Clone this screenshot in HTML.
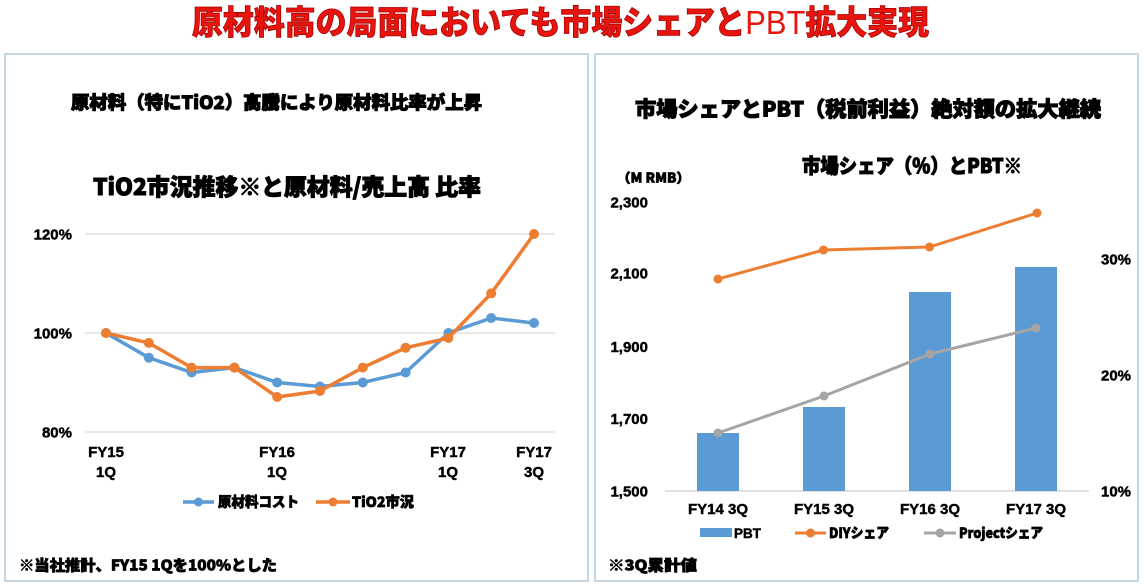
<!DOCTYPE html>
<html><head><meta charset="utf-8"><style>
html,body{margin:0;padding:0;background:#fff;}
svg{display:block;}
text{font-family:"Liberation Sans","Noto Sans CJK JP",sans-serif;font-weight:900;fill:#000;}
.j{font-family:"Noto Sans CJK JP","Liberation Sans",sans-serif;font-weight:900;stroke:#000;stroke-width:0.7;}
.jb{stroke-width:1.0;}
.n{font-family:"Liberation Sans","Noto Sans CJK JP",sans-serif;font-weight:700;stroke:#000;stroke-width:0.45;}
</style></head><body>
<svg width="1147" height="585" viewBox="0 0 1147 585" xmlns="http://www.w3.org/2000/svg">
<rect width="1147" height="585" fill="#fff"/>
<!-- Title -->
<text x="192" y="34" font-size="33" textLength="737" lengthAdjust="spacingAndGlyphs" class="j" style="fill:#e8150f;stroke:#a80000;stroke-width:0.8">原材料高の局面においても市場シェアと<tspan style="font-weight:400;font-family:'Liberation Sans',sans-serif;stroke-width:0">PBT</tspan>拡大実現</text>

<!-- Panels -->
<rect x="5" y="54" width="583" height="527" fill="none" stroke="#c7d6e4" stroke-width="2"/>
<rect x="595" y="54" width="543" height="527" fill="none" stroke="#c7d6e4" stroke-width="2"/>

<!-- LEFT PANEL -->
<text class="j jb" x="71" y="109" font-size="18" textLength="411" lengthAdjust="spacingAndGlyphs">原材料（特にTiO2）高騰により原材料比率が上昇</text>
<text class="j jb" x="93" y="195" font-size="23" textLength="388" lengthAdjust="spacingAndGlyphs">TiO2市況推移※と原材料/売上高 比率</text>

<g stroke="#d9d9d9" stroke-width="1.2">
<line x1="85" y1="234" x2="555" y2="234"/>
<line x1="85" y1="333" x2="555" y2="333"/>
<line x1="85" y1="432" x2="555" y2="432"/>
</g>
<g font-size="15" text-anchor="end">
<text x="72" y="239.5" class="n">120%</text>
<text x="72" y="338.5" class="n">100%</text>
<text x="72" y="437.5" class="n">80%</text>
</g>
<g font-size="15" text-anchor="middle">
<text class="n" x="106" y="457">FY15</text><text class="n" x="106" y="477">1Q</text>
<text class="n" x="277" y="457">FY16</text><text class="n" x="277" y="477">1Q</text>
<text class="n" x="448" y="457">FY17</text><text class="n" x="448" y="477">1Q</text>
<text class="n" x="534" y="457">FY17</text><text class="n" x="534" y="477">3Q</text>
</g>

<!-- blue series -->
<polyline fill="none" stroke="#5b9bd5" stroke-width="3.5" stroke-linejoin="round"
 points="106,333 148.8,357.7 191.6,372.5 234.4,367.6 277.2,382.5 320,386.5 362.8,382.5 405.6,372.5 448.4,333 491.2,318 534,323"/>
<g fill="#5b9bd5">
<circle cx="106" cy="333" r="5"/><circle cx="148.8" cy="357.7" r="5"/><circle cx="191.6" cy="372.5" r="5"/><circle cx="234.4" cy="367.6" r="5"/><circle cx="277.2" cy="382.5" r="5"/><circle cx="320" cy="386.5" r="5"/><circle cx="362.8" cy="382.5" r="5"/><circle cx="405.6" cy="372.5" r="5"/><circle cx="448.4" cy="333" r="5"/><circle cx="491.2" cy="318" r="5"/><circle cx="534" cy="323" r="5"/>
</g>
<!-- orange series -->
<polyline fill="none" stroke="#ed7d31" stroke-width="3.5" stroke-linejoin="round"
 points="106,333 148.8,342.9 191.6,367.6 234.4,367.6 277.2,397 320,391 362.8,367.6 405.6,347.8 448.4,338 491.2,293.4 534,234"/>
<g fill="#ed7d31">
<circle cx="106" cy="333" r="5"/><circle cx="148.8" cy="342.9" r="5"/><circle cx="191.6" cy="367.6" r="5"/><circle cx="234.4" cy="367.6" r="5"/><circle cx="277.2" cy="397" r="5"/><circle cx="320" cy="391" r="5"/><circle cx="362.8" cy="367.6" r="5"/><circle cx="405.6" cy="347.8" r="5"/><circle cx="448.4" cy="338" r="5"/><circle cx="491.2" cy="293.4" r="5"/><circle cx="534" cy="234" r="5"/>
</g>

<!-- left legend -->
<line x1="183" y1="502" x2="214" y2="502" stroke="#5b9bd5" stroke-width="3.5"/>
<circle cx="198.5" cy="502" r="4.5" fill="#5b9bd5"/>
<text class="j" x="218" y="507" font-size="14" textLength="81" lengthAdjust="spacingAndGlyphs">原材料コスト</text>
<line x1="316" y1="502" x2="350" y2="502" stroke="#ed7d31" stroke-width="3.5"/>
<circle cx="333" cy="502" r="4.5" fill="#ed7d31"/>
<text class="j" x="352" y="507" font-size="14" textLength="62" lengthAdjust="spacingAndGlyphs">TiO2市況</text>

<text class="j" x="19" y="570.5" font-size="15" textLength="258" lengthAdjust="spacingAndGlyphs">※当社推計、FY15 1Qを100%とした</text>

<!-- RIGHT PANEL -->
<text class="j jb" x="635" y="116.5" font-size="21" textLength="466" lengthAdjust="spacingAndGlyphs">市場シェアとPBT（税前利益）絶対額の拡大継続</text>
<text class="j jb" x="802" y="173" font-size="20" textLength="220" lengthAdjust="spacingAndGlyphs">市場シェア（%）とPBT※</text>
<text class="j" x="617" y="182.5" font-size="13" textLength="73" lengthAdjust="spacingAndGlyphs">（M  RMB）</text>

<g font-size="15" text-anchor="end">
<text class="n" x="648" y="207.5">2,300</text>
<text class="n" x="648" y="278.5">2,100</text>
<text class="n" x="648" y="352">1,900</text>
<text class="n" x="648" y="424">1,700</text>
<text class="n" x="648" y="496.5">1,500</text>
</g>
<g font-size="15">
<text class="n" x="1101" y="264.5">30%</text>
<text class="n" x="1101" y="380.5">20%</text>
<text class="n" x="1101" y="496.5">10%</text>
</g>

<line x1="665" y1="491" x2="1089" y2="491" stroke="#d9d9d9" stroke-width="1.5"/>
<g fill="#5b9bd5">
<rect x="697" y="433" width="42" height="58"/>
<rect x="803" y="407" width="42" height="84"/>
<rect x="909" y="292" width="42" height="199"/>
<rect x="1015" y="267" width="42" height="224"/>
</g>
<polyline fill="none" stroke="#ed7d31" stroke-width="3" stroke-linejoin="round" points="718,279 823.5,250 929.5,247 1037,213"/>
<g fill="#ed7d31">
<circle cx="718" cy="279" r="4.5"/><circle cx="823.5" cy="250" r="4.5"/><circle cx="929.5" cy="247" r="4.5"/><circle cx="1037" cy="213" r="4.5"/>
</g>
<polyline fill="none" stroke="#a5a5a5" stroke-width="3" stroke-linejoin="round" points="718,433 824,396 930,354 1036,328"/>
<g fill="#a5a5a5">
<circle cx="718" cy="433" r="4.5"/><circle cx="824" cy="396" r="4.5"/><circle cx="930" cy="354" r="4.5"/><circle cx="1036" cy="328" r="4.5"/>
</g>

<g font-size="15" text-anchor="middle">
<text class="n" x="718" y="514">FY14 3Q</text>
<text class="n" x="824" y="514">FY15 3Q</text>
<text class="n" x="930" y="514">FY16 3Q</text>
<text class="n" x="1036" y="514">FY17 3Q</text>
</g>

<!-- right legend -->
<rect x="700" y="528" width="32" height="9" fill="#5b9bd5"/>
<text class="n" x="734" y="538" font-size="14" textLength="27" lengthAdjust="spacingAndGlyphs">PBT</text>
<line x1="795" y1="533" x2="826" y2="533" stroke="#ed7d31" stroke-width="3"/>
<circle cx="810.5" cy="533" r="4.5" fill="#ed7d31"/>
<text class="j" x="829" y="538" font-size="14" textLength="60" lengthAdjust="spacingAndGlyphs">DIYシェア</text>
<line x1="924" y1="533" x2="956" y2="533" stroke="#a5a5a5" stroke-width="3"/>
<circle cx="940" cy="533" r="4.5" fill="#a5a5a5"/>
<text class="j" x="959" y="538" font-size="14" textLength="84" lengthAdjust="spacingAndGlyphs">Projectシェア</text>

<text class="j" x="608" y="570.5" font-size="15" textLength="89" lengthAdjust="spacingAndGlyphs">※3Q累計値</text>
</svg>
</body></html>
